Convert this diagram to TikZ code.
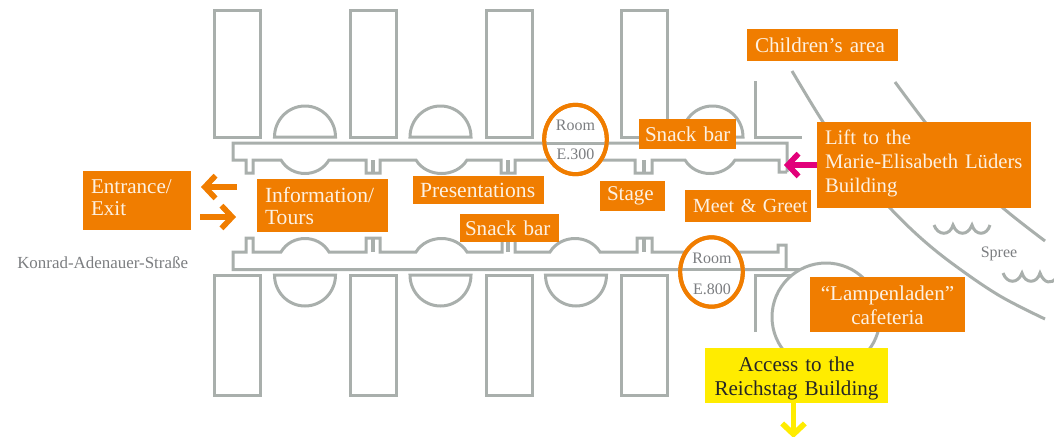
\documentclass[tikz,border=0pt]{standalone}
\usepackage{fontspec}
\setmainfont{Liberation Serif}
\usetikzlibrary{arrows.meta,shapes.geometric}
\definecolor{wallgray}{HTML}{A9AFAC}
\definecolor{labelgray}{HTML}{7B7D80}
\definecolor{boxorange}{HTML}{F07D00}
\definecolor{boxpink}{HTML}{E2007A}
\definecolor{boxyellow}{HTML}{FFEC00}
\definecolor{paletext}{HTML}{FDF1E2}
\tikzset{
  wall/.style={draw=wallgray,line width=2.25pt,line join=miter},
  bigfont/.style={font=\fontsize{15.8}{16.5}\selectfont},
  widefont/.style={font=\fontsize{16.2}{16.5}\selectfont},
  tallfont/.style={font=\fontsize{15.8}{18}\selectfont},
  box/.style={fill=boxorange,text=paletext,inner sep=0pt,bigfont,outer sep=0pt},
  leftbox/.style={box,align=left},
  midbox/.style={box,align=center,tallfont},
  ring/.style={ellipse,draw=boxorange,line width=3pt,fill=white,inner sep=0pt},
  small/.style={text=labelgray,font=\fontsize{12}{13}\selectfont,inner sep=0pt},
  arrowline/.style={line width=4.2pt,-{Straight Barb[length=8pt,width=17pt,line width=4.2pt]}},
}
\begin{document}
\begin{tikzpicture}[x=0.75pt,y=-0.75pt]
\useasboundingbox (0,0) rectangle (1054,436);
% rooms
\foreach \x in {214,350,486,621}{
  \draw[wall] (\x,10) rectangle ++(46,127);
  \draw[wall] (\x,275) rectangle ++(46,120);
}
% top semicircles
\foreach \c/\y in {305/137,440.5/137,712.5/137}{
  \draw[wall,shift={(\c,\y)}] (-30.5,0) .. controls (-30.5,-17) and (-17,-31) .. (0,-31) .. controls (17,-31) and (30.5,-17) .. (30.5,0) -- cycle;
}
\foreach \c in {305,440.5,576}{
  \draw[wall,shift={(\c,275)}] (-30.5,0) .. controls (-30.5,17) and (-17,31) .. (0,31) .. controls (17,31) and (30.5,17) .. (30.5,0) -- cycle;
}
% top corridor
\draw[wall] (787,172) -- (787,143) -- (233,143) -- (233,160) -- (246,160) -- (246,173) -- (253,173) -- (253,160) -- (281,160)
  .. controls (291.6,178) and (318.4,178) .. (329,160) -- (366,160) -- (366,173) -- (380,173) -- (380,160) -- (416,160)
  .. controls (427,178) and (456,178) .. (467,160) -- (501,160) -- (501,173) -- (515,173) -- (515,160) -- (635,160) -- (635,173) -- (652,173) -- (652,160) -- (685,160)
  .. controls (696,178) and (724,178) .. (735,160) -- (779,160) -- (779,172) -- (787,172);
\draw[wallgray,line width=3pt] (373,160) -- (373,173);
\draw[wallgray,line width=3pt] (508,160) -- (508,173);
\draw[wallgray,line width=3pt] (643.5,160) -- (643.5,173);
% bottom corridor
\draw[wall] (800,269.5) -- (233,269.5) -- (233,252) -- (246,252) -- (246,238) -- (253,238) -- (253,252) -- (281,252)
  .. controls (291.6,234) and (318.4,234) .. (329,252) -- (366,252) -- (366,238) -- (380,238) -- (380,252) -- (416,252)
  .. controls (427,234) and (456,234) .. (467,252) -- (502,252) -- (502,238) -- (515,238) -- (515,252) -- (550,252)
  .. controls (561,234) and (589,234) .. (600,252) -- (637,252) -- (637,238) -- (652,238) -- (652,252) -- (778,252) -- (778,245) -- (786,245) -- (786,269.5);
\draw[wallgray,line width=3pt] (373,238) -- (373,252);
\draw[wallgray,line width=3pt] (508,238) -- (508,252);
\draw[wallgray,line width=3pt] (644,238) -- (644,252);
% east rooms
\draw[wall] (755,81) -- (755,137) -- (802,137);
\draw[wall] (755,332) -- (755,275) -- (792,275);
\draw[wall,fill=white] (826,317) circle[radius=40.5pt];
% river
\draw[wall] plot[smooth,tension=.6] coordinates {(792,71) (823,122) (855,168) (890,208) (923,240) (957,267) (1000,296) (1045,319)};
\draw[wall] plot[smooth,tension=.6] coordinates {(895,82) (925,122) (965,172) (1003,208) (1045,241)};
\draw[wall] (934,225) .. controls (938,236) and (950,236) .. (953,225) .. controls (957,236) and (968,236) .. (972,225) .. controls (975,236) and (987,236) .. (990,225);
\draw[wall] (1003,273) .. controls (1007,284) and (1018,284) .. (1022,273) .. controls (1025,284) and (1037,284) .. (1040,273) .. controls (1044,284) and (1052,284) .. (1056,278);
% rings
\node[ring,minimum width=47pt,minimum height=52pt] (e300) at (575.5,139.5) {};
\node[ring,minimum width=47pt,minimum height=52pt] (e800) at (711.5,272) {};
\coordinate (e300l) at (e300.west |- 0,143);
\coordinate (e300r) at (e300.east |- 0,143);
\coordinate (e800l) at (e800.west |- 0,269.5);
\coordinate (e800r) at (e800.east |- 0,269.5);
\draw[wallgray,line width=2.25pt] (e300l) -- (e300r);
\draw[wallgray,line width=2.25pt] (e800l) -- (e800r);
\draw[draw=boxorange,line width=3pt] (575.5,139.5) ellipse[x radius=23.5pt,y radius=26pt];
\draw[draw=boxorange,line width=3pt] (711.5,272) ellipse[x radius=23.5pt,y radius=26pt];
\node[small] (r1) at (575.5,125) {Room};
\node[small] (r2) at (575.5,154) {E.300};
\node[small] (r3) at (712,258) {Room};
\node[small] (r4) at (712,289) {E.800};
\node[small,font=\fontsize{12.7}{13}\selectfont,anchor=west] (street) at (17,263) {Konrad-Adenauer-Straße};
\node[small] (spree) at (999,254) {Spree};
% boxes
\node[leftbox,minimum width=113.25pt,minimum height=24pt,text width=101.25pt] (children) at (822.5,45) {Children’s area};
\node[leftbox,font=\fontsize{15.5}{18}\selectfont,minimum width=160.5pt,minimum height=64.5pt,text width=148.5pt] (lift) at (924,165) {Lift to the\\\mbox{Marie-Elisabeth Lüders}\\Building\rule[-5pt]{0pt}{0pt}};
\node[leftbox,font=\fontsize{15}{16.5}\selectfont,minimum width=94.5pt,minimum height=24pt,text width=82.5pt] (meet) at (748,206) {\mbox{Meet \& Greet}};
\node[leftbox,minimum width=48.75pt,minimum height=22.5pt,text width=38.25pt] (stage) at (632.5,196) {Stage};
\node[leftbox,minimum width=72.75pt,minimum height=22.5pt,text width=63.75pt] (snack1) at (687.5,134) {\mbox{Snack bar}};
\node[leftbox,widefont,minimum width=98.25pt,minimum height=21pt,text width=87.75pt] (pres) at (478.5,190) {Presentations};
\node[leftbox,minimum width=74.25pt,minimum height=21pt,text width=66.75pt] (snack2) at (509.5,228) {\mbox{Snack bar}};
\node[leftbox,widefont,minimum width=98.25pt,minimum height=39.75pt,text width=86.25pt] (info) at (322.5,205.5) {Information/\\Tours};
\node[leftbox,minimum width=81pt,minimum height=44.25pt,text width=69pt] (entr) at (137,200.5) {\rule[0pt]{0pt}{9pt}Entrance/\\Exit\rule[-5pt]{0pt}{0pt}};
\node[midbox,minimum width=116.25pt,minimum height=41.25pt,text width=110pt] (lamp) at (887.5,304.5) {\rule{0pt}{12.5pt}“Lampenladen”\\cafeteria};
\node[midbox,fill=boxyellow,text=black!85,minimum width=137.25pt,minimum height=41.25pt,text width=130pt] (access) at (796.5,375.5) {\rule{0pt}{15.3pt}Access to the\\Reichstag Building};
% arrows
\coordinate (a1s) at (237,187);
\coordinate (a1e) at (201,187);
\coordinate (a2s) at (200,217);
\coordinate (a2e) at (236,217);
\coordinate (a3e) at (784,165);
\coordinate (a4e) at (793.5,438);
\draw[arrowline,draw=boxorange] (a1s) -- (a1e);
\draw[arrowline,draw=boxorange] (a2s) -- (a2e);
\draw[arrowline,draw=boxpink] (lift.west) -- (a3e);
\draw[arrowline,draw=boxyellow] (access.south -| a4e) -- (a4e);
\end{tikzpicture}
\end{document}
